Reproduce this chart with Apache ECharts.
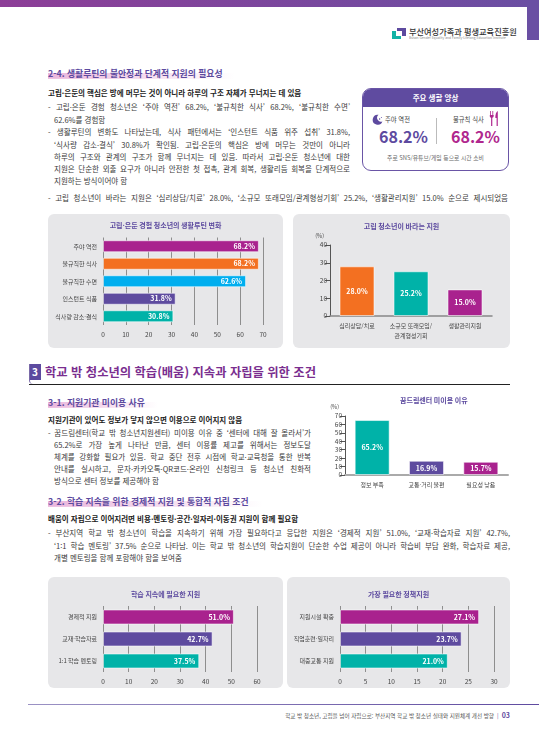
<!DOCTYPE html>
<html lang="ko">
<head>
<meta charset="utf-8">
<script src="https://cdn.jsdelivr.net/npm/echarts@6/dist/echarts.min.js"></script>
<style>
  html, body { margin: 0; padding: 0; background: #fff; }
  #page { position: relative; width: 539px; height: 737px; overflow: hidden; font-family: "Noto Sans CJK KR", "Noto Sans", sans-serif; }
  .t { position: absolute; white-space: nowrap; font-size: 7.5px; line-height: 12px; height: 12px; color: #3a3a3a; }
  .j { text-align: justify; text-align-last: justify; }
  .b { font-weight: 700; color: #222; }
  .h { font-weight: 700; color: #5c4a9f; font-size: 8.8px; }
  .hl { background: linear-gradient(to right, rgba(225,150,205,.7), rgba(225,150,205,0)) no-repeat; background-size: 100% 45%; background-position: 0 90%; }
  .panel { position: absolute; background: #e7e7e9; border-radius: 6px; }
  .chart { position: absolute; }
</style>
</head>
<body>
<div id="page">
  <!-- 상단 띠 -->
  <div style="position:absolute;left:0;top:0;width:539px;height:7px;background:linear-gradient(to right,#8d3e97,#6a4fa3);"></div>
  <div style="position:absolute;left:527px;top:0;width:12px;height:40px;background:#6a4fa3;"></div>

  <!-- 로고 -->
  <svg style="position:absolute;left:392px;top:28px" width="14" height="11" viewBox="0 0 14 11">
    <rect x="0" y="3" width="4" height="8" fill="#13b2a6"/>
    <rect x="0" y="8" width="9" height="3" fill="#13b2a6"/>
    <rect x="5" y="0" width="9" height="3" fill="#5d4a9f"/>
    <rect x="10" y="0" width="4" height="8" fill="#5d4a9f"/>
  </svg>
  <div class="t" style="left:409px;top:25px;font-size:8.2px;color:#333;font-weight:500">부산여성가족과 평생교육진흥원</div>
  <div class="t" style="left:409px;top:35px;font-size:6px;color:#888;transform:scale(.55);transform-origin:0 0">Busan Gender Equality and Family·Lifelong Education Institute</div>

  <!-- 2-4 -->
  <div class="t h" style="left:48px;top:68px"><span class="hl" style="padding-right:12px">2-4. 생활루틴의 불안정과 단계적 지원의 필요성</span></div>
  <div class="t b" style="left:48px;top:87px">고립·은둔의 핵심은 방에 머무는 것이 아니라 하루의 구조 자체가 무너지는 데 있음</div>
  <div class="t j" style="left:48px;top:101px;width:302px">- 고립·은둔 경험 청소년은 ‘주야 역전’ 68.2%, ‘불규칙한 식사’ 68.2%, ‘불규칙한 수면’</div>
  <div class="t" style="left:54px;top:114px">62.6%를 경험함</div>
  <div class="t j" style="left:48px;top:126px;width:302px">- 생활루틴의 변화도 나타났는데, 식사 패턴에서는 ‘인스턴트 식품 위주 섭취’ 31.8%,</div>
  <div class="t j" style="left:54px;top:139px;width:296px">‘식사량 감소·결식’ 30.8%가 확인됨. 고립·은둔의 핵심은 방에 머무는 것만이 아니라</div>
  <div class="t j" style="left:54px;top:151px;width:296px">하루의 구조와 관계의 구조가 함께 무너지는 데 있음. 따라서 고립·은둔 청소년에 대한</div>
  <div class="t j" style="left:54px;top:163px;width:296px">지원은 단순한 외출 요구가 아니라 안전한 첫 접촉, 관계 회복, 생활리듬 회복을 단계적으로</div>
  <div class="t" style="left:54px;top:175px">지원하는 방식이어야 함</div>
  <div class="t j" style="left:48px;top:192px;width:460px">- 고립 청소년이 바라는 지원은 ‘심리상담/치료’ 28.0%, ‘소규모 또래모임/관계형성기회’ 25.2%, ‘생활관리지원’ 15.0% 순으로 제시되었음</div>

  <!-- 주요 생활 양상 박스 -->
  <div style="position:absolute;left:362px;top:88px;width:145px;height:81px;border:1.5px solid #6a55a6;border-radius:9px;overflow:hidden;background:#fff">
    <div style="height:18px;background:#5f4ba0;color:#fff;font-size:7.5px;font-weight:700;text-align:center;line-height:18px">주요 생활 양상</div>
    <svg style="position:absolute;left:9px;top:25px" width="11" height="11" viewBox="0 0 11 11">
      <path d="M6.5 0.8 A5 5 0 1 0 10.4 7.6 A4 4 0 0 1 6.5 0.8 Z" fill="#5d4a9f"/>
      <circle cx="7.6" cy="5" r=".7" fill="#5d4a9f"/><circle cx="9.4" cy="3.4" r=".5" fill="#5d4a9f"/>
    </svg>
    <div class="t" style="left:22px;top:25px;font-size:6.3px;color:#444">주야 역전</div>
    <div class="t" style="left:16px;top:37px;font-size:16px;line-height:20px;height:20px;font-weight:700;color:#5d4a9f">68.2%</div>
    <div style="position:absolute;left:73px;top:29px;width:1px;height:26px;background:#bbb"></div>
    <div class="t" style="left:90px;top:25px;font-size:6.3px;color:#444">불규칙 식사</div>
    <svg style="position:absolute;left:126px;top:22px" width="10" height="15" viewBox="0 0 10 15">
      <rect x="1.2" y="0" width=".8" height="5" fill="#b0278e"/><rect x="3.4" y="0" width=".8" height="5" fill="#b0278e"/>
      <path d="M0.8 4 H4.6 V5.5 Q4.6 6.5 3.3 6.8 V15 H2.1 V6.8 Q0.8 6.5 0.8 5.5 Z" fill="#b0278e"/>
      <path d="M8.8 0 Q6.2 1.5 6.4 7 H7.6 V15 H8.8 Z" fill="#b0278e"/>
    </svg>
    <div class="t" style="left:88px;top:37px;font-size:16px;line-height:20px;height:20px;font-weight:700;color:#b0278e">68.2%</div>
    <div class="t" style="left:0;top:63px;width:145px;text-align:center;font-size:5.8px;color:#666">주로 SNS/유튜브/게임 등으로 시간 소비</div>
  </div>

  <!-- 상단 차트 패널 -->
  <div class="panel" style="left:48px;top:214px;width:235px;height:134px"></div>
  <div class="panel" style="left:293px;top:214px;width:217px;height:134px"></div>
  <div class="chart" id="routine" style="left:48px;top:214px;width:235px;height:134px"></div>
  <div class="chart" id="want" style="left:293px;top:214px;width:217px;height:134px"></div>

  <!-- 3 -->
  <div style="position:absolute;left:29px;top:364px;width:12px;height:16px;background:#5c4a9f;color:#fff;font-size:10px;font-weight:700;text-align:center;line-height:16px">3</div>
  <div style="position:absolute;left:29px;top:364px;width:6px;height:20px;border-left:1px solid #7a6aa8;border-bottom-left-radius:4px"></div>
  <div style="position:absolute;left:29px;top:383.5px;width:481px;height:1.2px;background:#222"></div>
  <div class="t" style="left:45px;top:364px;font-size:12.3px;line-height:16px;height:16px;font-weight:700;color:#7a2e8f">학교 밖 청소년의 학습(배움) 지속과 자립을 위한 조건</div>

  <!-- 3-1 -->
  <div class="t h" style="left:48px;top:397px"><span class="hl" style="padding-right:13px">3-1. 지원기관 미이용 사유</span></div>
  <div class="t b" style="left:48px;top:414px">지원기관이 있어도 정보가 닿지 않으면 이용으로 이어지지 않음</div>
  <div class="t j" style="left:48px;top:427px;width:263px">- 꿈드림센터(학교 밖 청소년지원센터) 미이용 이유 중 ‘센터에 대해 잘 몰라서’가</div>
  <div class="t j" style="left:54px;top:439px;width:257px">65.2%로 가장 높게 나타난 만큼, 센터 이용률 제고를 위해서는 정보도달</div>
  <div class="t j" style="left:54px;top:451px;width:257px">체계를 강화할 필요가 있음. 학교 중단 전후 시점에 학교·교육청을 통한 반복</div>
  <div class="t j" style="left:54px;top:463px;width:257px">안내를 실시하고, 문자·카카오톡·QR코드·온라인 신청링크 등 청소년 친화적</div>
  <div class="t" style="left:54px;top:475px">방식으로 센터 정보를 제공해야 함</div>
  <div class="chart" id="dream" style="left:315px;top:388px;width:200px;height:105px"></div>

  <!-- 3-2 -->
  <div class="t h" style="left:48px;top:496px"><span class="hl" style="padding-right:14px">3-2. 학습 지속을 위한 경제적 지원 및 통합적 자립 조건</span></div>
  <div class="t b" style="left:48px;top:513px">배움이 자립으로 이어지려면 비용·멘토링·공간·일자리·이동권 지원이 함께 필요함</div>
  <div class="t j" style="left:48px;top:527px;width:462px">- 부산지역 학교 밖 청소년이 학습을 지속하기 위해 가장 필요하다고 응답한 지원은 ‘경제적 지원’ 51.0%, ‘교재·학습자료 지원’ 42.7%,</div>
  <div class="t j" style="left:54px;top:540px;width:456px">‘1:1 학습 멘토링’ 37.5% 순으로 나타남. 이는 학교 밖 청소년의 학습지원이 단순한 수업 제공이 아니라 학습비 부담 완화, 학습자료 제공,</div>
  <div class="t" style="left:54px;top:552px">개별 멘토링을 함께 포함해야 함을 보여줌</div>

  <!-- 하단 차트 패널 -->
  <div class="panel" style="left:48px;top:577px;width:235px;height:111px"></div>
  <div class="panel" style="left:287px;top:577px;width:223px;height:111px"></div>
  <div class="chart" id="study" style="left:48px;top:577px;width:235px;height:111px"></div>
  <div class="chart" id="policy" style="left:287px;top:577px;width:223px;height:111px"></div>

  <!-- 푸터 -->
  <div style="position:absolute;left:28px;top:703.5px;width:511px;height:1.5px;background:linear-gradient(to right,#9b92c4,#5f4ba0)"></div>
  <div class="t" style="right:29px;top:709px;font-size:5.6px;color:#555">학교 밖 청소년, 고립을 넘어 자립으로: 부산지역 학교 밖 청소년 실태와 지원체계 개선 방향 <span style="color:#5f4ba0">&nbsp;|&nbsp; <b style="font-size:7px">03</b></span></div>
</div>

<script>
// 데이터
const routineCats = ['주야 역전', '불규칙한 식사', '불규칙한 수면', '인스턴트 식품', '식사량 감소·결식'];
const routineVals = [68.2, 68.2, 62.6, 31.8, 30.8];

const wantCats = ['심리상담/치료', '소규모 또래모임/\n관계형성기회', '생활관리지원'];
const wantVals = [28.0, 25.2, 15.0];

const dreamCats = ['정보 부족', '교통·거리 불편', '필요성 낮음'];
const dreamVals = [65.2, 16.9, 15.7];

const studyCats = ['경제적 지원', '교재·학습자료', '1:1 학습 멘토링'];
const studyVals = [51.0, 42.7, 37.5];

const policyCats = ['지원시설 확충', '직업훈련·일자리', '대중교통 지원'];
const policyVals = [27.1, 23.7, 21.0];

const FONT = '"Noto Sans CJK KR", "Noto Sans", sans-serif';
const MAGENTA = '#a9228e', ORANGE = '#f37021', SKY = '#00aeef', PURPLE = '#5e4b9f', TEAL = '#00b2a8';
const TITLE_COLOR = '#5c4a9f';

function pct(p) { return p.value.toFixed(1) + '%'; }

function barData(vals, colors) {
    return vals.map((v, i) => ({ value: v, itemStyle: { color: colors[i] } }));
}

// 가로 막대
function hbar(id, title, cats, vals, colors, max, interval, grid, barWidth, titleTop) {
    const chart = echarts.init(document.getElementById(id));
    chart.setOption({
        animation: false,
        textStyle: { fontFamily: FONT },
        title: { text: title, left: 'center', top: titleTop, textStyle: { color: TITLE_COLOR, fontSize: 7, fontWeight: 'bold', fontFamily: FONT } },
        grid: grid,
        xAxis: {
            type: 'value', min: 0, max: max, interval: interval,
            axisLine: { show: false }, axisTick: { show: false },
            splitLine: { lineStyle: { color: '#8e8e8e', width: 1 } },
            axisLabel: { fontSize: 6.5, color: '#444', margin: 6, fontFamily: FONT }
        },
        yAxis: {
            type: 'category', data: cats, inverse: true,
            axisLine: { show: false }, axisTick: { show: false },
            axisLabel: { fontSize: 6, color: '#444', margin: 6, interval: 0, fontFamily: FONT }
        },
        series: [{
            type: 'bar', data: barData(vals, colors), barWidth: barWidth,
            itemStyle: { borderColor: 'rgba(255,255,255,0.55)', borderWidth: 1 },
            label: { show: true, position: 'insideRight', distance: 4, color: '#fff', fontWeight: 'bold', fontSize: 7, formatter: pct, fontFamily: FONT }
        }]
    });
}

// 세로 막대
function vbar(id, title, titleLeft, cats, vals, colors, max, interval, grid, xLine) {
    const chart = echarts.init(document.getElementById(id));
    chart.setOption({
        animation: false,
        textStyle: { fontFamily: FONT },
        title: { text: title, left: titleLeft, top: 4, textStyle: { color: TITLE_COLOR, fontSize: 7, fontWeight: 'bold', fontFamily: FONT } },
        grid: grid,
        xAxis: {
            type: 'category', data: cats,
            axisLine: { lineStyle: xLine }, axisTick: { show: false },
            axisLabel: { fontSize: 6, color: '#444', margin: 5, lineHeight: 10, interval: 0, hideOverlap: false, fontFamily: FONT }
        },
        yAxis: {
            type: 'value', min: 0, max: max, interval: interval,
            name: '(%)', nameLocation: 'end', nameGap: 6,
            nameTextStyle: { fontSize: 5.5, color: '#444', align: 'right', padding: [0, 6, 0, 0], fontFamily: FONT },
            axisLine: { show: true, lineStyle: { color: '#555', width: 1 } },
            axisTick: { show: true, length: 5, lineStyle: { color: '#555' } },
            splitLine: { show: false },
            axisLabel: { fontSize: 6.5, color: '#444', margin: 3, fontFamily: FONT }
        },
        series: [{
            type: 'bar', data: barData(vals, colors), barWidth: 35,
            itemStyle: { borderColor: 'rgba(255,255,255,0.55)', borderWidth: 1 },
            label: { show: true, position: 'inside', color: '#fff', fontWeight: 'bold', fontSize: 7, formatter: pct, fontFamily: FONT }
        }]
    });
}

hbar('routine', '고립·은둔 경험 청소년의 생활루틴 변화', routineCats, routineVals,
    [MAGENTA, ORANGE, SKY, PURPLE, TEAL], 70, 10,
    { left: 55, right: 20, top: 23.5, bottom: 23 }, 12, 3);

vbar('want', '고립 청소년이 바라는 지원', 'center', wantCats, wantVals,
    [ORANGE, TEAL, MAGENTA], 40, 10,
    { left: 37, right: 18, top: 31, bottom: 32 }, { color: '#888', width: 1.5 });

vbar('dream', '꿈드림센터 미이용 이유', 80, dreamCats, dreamVals,
    [TEAL, PURPLE, MAGENTA], 70, 10,
    { left: 30, right: 7, top: 28, bottom: 18 }, { color: '#aaa', width: 2 });

hbar('study', '학습 지속에 필요한 지원', studyCats, studyVals,
    [MAGENTA, PURPLE, TEAL], 60, 10,
    { left: 55, right: 26, top: 29, bottom: 16 }, 15, 9);

hbar('policy', '가장 필요한 정책지원', policyCats, policyVals,
    [MAGENTA, PURPLE, TEAL], 30, 5,
    { left: 53, right: 16, top: 29, bottom: 16 }, 15, 9);
</script>
</body>
</html>
